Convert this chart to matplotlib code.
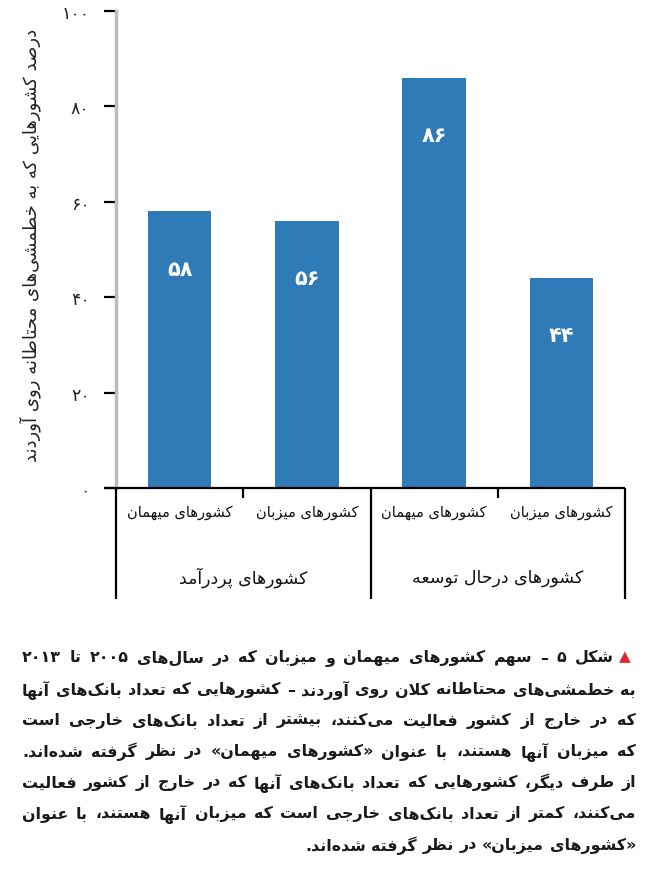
import re
import numpy as np
import matplotlib
matplotlib.use('Agg')
import matplotlib.pyplot as plt

plt.rcParams['font.family'] = ['DejaVu Sans']

# ---- data ----
categories = ['کشورهای میهمان', 'کشورهای میزبان', 'کشورهای میهمان', 'کشورهای میزبان']
groups = ['کشورهای پردرآمد', 'کشورهای درحال توسعه']
values = [58, 56, 86, 44]
yticks = [0, 20, 40, 60, 80, 100]
ylabel = 'درصد کشورهایی که به خطمشی‌های محتاطانه روی آوردند'
caption = [
    'شکل ۵ – سهم کشورهای میهمان و میزبان که در سال‌های ۲۰۰۵ تا ۲۰۱۳',
    'به خطمشی‌های محتاطانه کلان روی آوردند – کشورهایی که تعداد بانک‌های آنها',
    'که در خارج از کشور فعالیت می‌کنند، بیشتر از تعداد بانک‌های خارجی است',
    'که میزبان آنها هستند، با عنوان «کشورهای میهمان» در نظر گرفته شده‌اند.',
    'از طرف دیگر، کشورهایی که تعداد بانک‌های آنها که در خارج از کشور فعالیت',
    'می‌کنند، کمتر از تعداد بانک‌های خارجی است که میزبان آنها هستند، با عنوان',
    '«کشورهای میزبان» در نظر گرفته شده‌اند.',
]

# ---- minimal arabic shaping + rtl reordering (matplotlib does neither) ----
FORMS = {
    '\u0621': ('\uFE80',),
    '\u0622': ('\uFE81', '\uFE82'),
    '\u0623': ('\uFE83', '\uFE84'),
    '\u0627': ('\uFE8D', '\uFE8E'),
    '\u0628': ('\uFE8F', '\uFE90', '\uFE91', '\uFE92'),
    '\u0629': ('\uFE93', '\uFE94'),
    '\u062A': ('\uFE95', '\uFE96', '\uFE97', '\uFE98'),
    '\u062B': ('\uFE99', '\uFE9A', '\uFE9B', '\uFE9C'),
    '\u062C': ('\uFE9D', '\uFE9E', '\uFE9F', '\uFEA0'),
    '\u062D': ('\uFEA1', '\uFEA2', '\uFEA3', '\uFEA4'),
    '\u062E': ('\uFEA5', '\uFEA6', '\uFEA7', '\uFEA8'),
    '\u062F': ('\uFEA9', '\uFEAA'),
    '\u0630': ('\uFEAB', '\uFEAC'),
    '\u0631': ('\uFEAD', '\uFEAE'),
    '\u0632': ('\uFEAF', '\uFEB0'),
    '\u0633': ('\uFEB1', '\uFEB2', '\uFEB3', '\uFEB4'),
    '\u0634': ('\uFEB5', '\uFEB6', '\uFEB7', '\uFEB8'),
    '\u0635': ('\uFEB9', '\uFEBA', '\uFEBB', '\uFEBC'),
    '\u0636': ('\uFEBD', '\uFEBE', '\uFEBF', '\uFEC0'),
    '\u0637': ('\uFEC1', '\uFEC2', '\uFEC3', '\uFEC4'),
    '\u0638': ('\uFEC5', '\uFEC6', '\uFEC7', '\uFEC8'),
    '\u0639': ('\uFEC9', '\uFECA', '\uFECB', '\uFECC'),
    '\u063A': ('\uFECD', '\uFECE', '\uFECF', '\uFED0'),
    '\u0641': ('\uFED1', '\uFED2', '\uFED3', '\uFED4'),
    '\u0642': ('\uFED5', '\uFED6', '\uFED7', '\uFED8'),
    '\u0644': ('\uFEDD', '\uFEDE', '\uFEDF', '\uFEE0'),
    '\u0645': ('\uFEE1', '\uFEE2', '\uFEE3', '\uFEE4'),
    '\u0646': ('\uFEE5', '\uFEE6', '\uFEE7', '\uFEE8'),
    '\u0647': ('\uFEE9', '\uFEEA', '\uFEEB', '\uFEEC'),
    '\u0648': ('\uFEED', '\uFEEE'),
    '\u064A': ('\uFEF1', '\uFEF2', '\uFEF3', '\uFEF4'),
    '\u067E': ('\uFB56', '\uFB57', '\uFB58', '\uFB59'),
    '\u0686': ('\uFB7A', '\uFB7B', '\uFB7C', '\uFB7D'),
    '\u0698': ('\uFB8A', '\uFB8B'),
    '\u06A9': ('\uFB8E', '\uFB8F', '\uFB90', '\uFB91'),
    '\u06AF': ('\uFB92', '\uFB93', '\uFB94', '\uFB95'),
    '\u06CC': ('\uFBFC', '\uFBFD', '\uFBFE', '\uFBFF'),
}
LAMALEF = {'\u0627': ('\uFEFB', '\uFEFC'), '\u0622': ('\uFEF5', '\uFEF6')}
DIGITS = '0123456789\u06F0\u06F1\u06F2\u06F3\u06F4\u06F5\u06F6\u06F7\u06F8\u06F9'
MIRROR = str.maketrans({'«': '»', '»': '«', '(': ')', ')': '('})
FA = str.maketrans('0123456789', '\u06F0\u06F1\u06F2\u06F3\u06F4\u06F5\u06F6\u06F7\u06F8\u06F9')


def jt(c):
    f = FORMS.get(c)
    return 0 if f is None else len(f)


def shape(s):
    out = []
    i = 0
    n = len(s)
    while i < n:
        c = s[i]
        if c not in FORMS:
            out.append(c)
            i += 1
            continue
        joins_prev = i > 0 and jt(s[i - 1]) == 4
        if c == '\u0644' and i + 1 < n and s[i + 1] in LAMALEF:
            iso, fin = LAMALEF[s[i + 1]]
            out.append(fin if joins_prev else iso)
            i += 2
            continue
        joins_next = jt(c) == 4 and i + 1 < n and jt(s[i + 1]) >= 2
        f = FORMS[c]
        if joins_prev and joins_next:
            g = f[3]
        elif joins_prev and len(f) > 1:
            g = f[1]
        elif joins_next:
            g = f[2]
        else:
            g = f[0]
        out.append(g)
        i += 1
    return ''.join(out).replace('\u200c', '')


def fa(s):
    s = shape(s)
    runs = re.findall('[' + DIGITS + ']+|[^' + DIGITS + ']+', s)
    parts = []
    for r in reversed(runs):
        if r[0] in DIGITS:
            parts.append(r)
        else:
            parts.append(r[::-1].translate(MIRROR))
    return ''.join(parts)


# ---- figure ----
W, H = 666, 870
fig = plt.figure(figsize=(W / 100, H / 100), dpi=100)
ax = fig.add_axes([116 / W, 1 - 489 / H, 509 / W, 477 / H])

x = np.arange(len(values))
ax.bar(x, values, width=0.5, color='#2f7bb8', zorder=2)
for xi, v in zip(x, values):
    ax.text(xi, v - 12, fa(str(v).translate(FA)), ha='center', va='center',
            color='white', fontsize=15, fontweight='bold')

ax.set_xlim(-0.5, 3.5)
ax.set_ylim(0, 100)
ax.set_yticks(yticks)
ax.set_yticklabels([str(t).translate(FA) for t in yticks], fontsize=12.5, color='#222222')
ax.tick_params(axis='y', length=9, width=1.6, color='black', pad=10)
ax.set_xticks([])
for s in ['top', 'right', 'bottom']:
    ax.spines[s].set_visible(False)
ax.spines['left'].set_color('#b8bcbf')
ax.spines['left'].set_linewidth(2.5)

# bottom frame lines
k = dict(color='black', lw=1.6, clip_on=False, zorder=3, solid_capstyle='butt')
ax.plot([-0.586, 3.5], [0, 0], **k)
for xs in [-0.5, 1.5, 3.5]:
    ax.plot([xs, xs], [0, -23.3], **k)
for xs in [0.5, 2.5]:
    ax.plot([xs, xs], [0, -2.2], **k)

for xi, c in zip(x, categories):
    ax.text(xi, -4.9, fa(c), ha='center', va='center', fontsize=10.5, color='#111111', clip_on=False)
for gi, g in enumerate(groups):
    ax.text(0.5 + 2 * gi, -18.7, fa(g), ha='center', va='center', fontsize=12.5, color='#111111', clip_on=False)

fig.text(30 / W, 1 - 245 / H, fa(ylabel), rotation=90, ha='center', va='center',
         fontsize=13, color='#222222')

# caption, justified word by word like the printed page
renderer = fig.canvas.get_renderer()
ys = [658, 690, 721, 752, 783, 814, 846]
left_px, right_px = 22, 636
cap_kw = dict(va='center', fontweight='bold', color='#1a1a1a')


def word_widths(words, size):
    ws = []
    for w in words:
        t = fig.text(0, 0, w, fontsize=size, **cap_kw)
        ws.append(t.get_window_extent(renderer).width)
        t.remove()
    return ws


size = 12.5
space = word_widths(['a a'], size)[0] - 2 * word_widths(['a'], size)[0]
longest = 0
for i, line in enumerate(caption):
    words = fa(line).split(' ')
    avail = right_px - left_px - (22 if i == 0 else 0)
    wsum = sum(word_widths(words, size)) + space * (len(words) - 1)
    longest = max(longest, wsum / avail)
if longest > 1:
    size = size / longest * 0.99

for i, (line, yy) in enumerate(zip(caption, ys)):
    words = fa(line).split(' ')
    xr = right_px - (22 if i == 0 else 0)
    ws = word_widths(words, size)
    if i < len(caption) - 1:
        gap = (xr - left_px - sum(ws)) / (len(words) - 1)
        xc = left_px
    else:
        gap = word_widths(['a a'], size)[0] - 2 * word_widths(['a'], size)[0]
        xc = xr - sum(ws) - gap * (len(words) - 1)
    for w, wd in zip(words, ws):
        fig.text(xc / W, 1 - yy / H, w, ha='left', fontsize=size, **cap_kw)
        xc += wd + gap

fig.text(625 / W, 1 - 657 / H, '▲', ha='center', va='center', fontsize=11, color='#e5242b')

fig.savefig('out.png', dpi=100)
